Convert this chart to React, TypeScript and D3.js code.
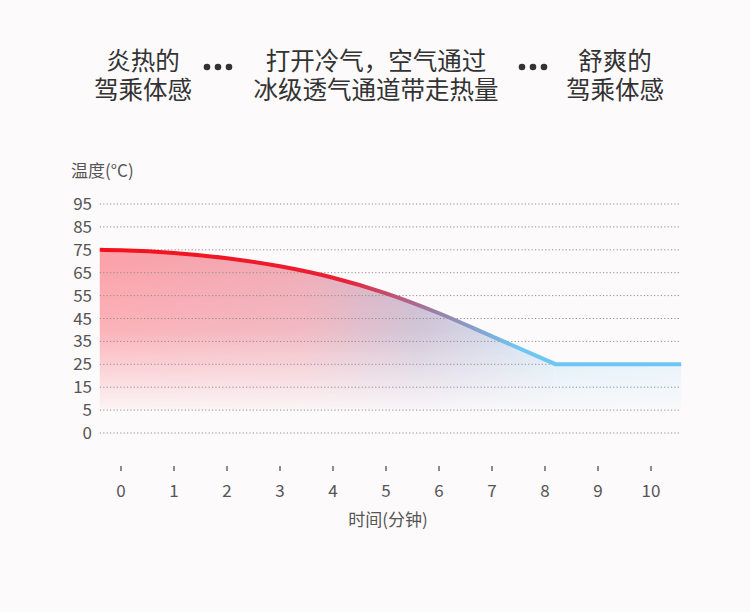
import React from "react";
import * as d3 from "d3";

const W = 750;
const H = 612;

const yTickLabels = ["95", "85", "75", "65", "55", "45", "35", "25", "15", "5", "0"];
const xTickLabels = ["0", "1", "2", "3", "4", "5", "6", "7", "8", "9", "10"];

const timeMin = [-0.4, 0, 1, 2, 3, 4, 5, 6, 7, 8.2, 9, 10, 10.57];
const tempC = [75, 74.8, 73.6, 71.3, 67.8, 62.8, 56, 47.3, 37.2, 25, 25, 25, 25];

const titleLeft = ["炎热的", "驾乘体感"];
const titleMid = ["打开冷气，空气通过", "冰级透气通道带走热量"];
const titleRight = ["舒爽的", "驾乘体感"];

const FONT = "'Noto Sans CJK SC', 'Noto Sans', sans-serif";

export default function App() {
  const x = d3.scaleLinear().domain([0, 10]).range([121, 651]);
  const yPos = d3.scalePoint<string>().domain(yTickLabels).range([204, 433]);
  const y = d3
    .scaleLinear()
    .domain([0, 5, 95])
    .range([yPos("0")!, yPos("5")!, yPos("95")!]);

  const pts = timeMin.map((t, i) => [t, tempC[i]] as [number, number]);
  const curvePts = pts.slice(0, 10);
  const flatPts = pts.slice(9);

  const lineCurve = d3
    .line<[number, number]>()
    .x((d) => x(d[0]))
    .y((d) => y(d[1]))
    .curve(d3.curveMonotoneX);
  const lineFlat = d3
    .line<[number, number]>()
    .x((d) => x(d[0]))
    .y((d) => y(d[1]));
  const linePath = lineCurve(curvePts)! + lineFlat(flatPts)!.replace(/^M/, "L");

  const area = d3
    .area<[number, number]>()
    .x((d) => x(d[0]))
    .y0(y(5))
    .y1((d) => y(d[1]))
    .curve(d3.curveMonotoneX);
  const areaFlat = d3
    .area<[number, number]>()
    .x((d) => x(d[0]))
    .y0(y(5))
    .y1((d) => y(d[1]));

  const x0 = x(timeMin[0]);
  const x1 = x(timeMin[timeMin.length - 1]);

  const dots = (cx: number) =>
    [-11, 0, 11].map((o, i) => <circle key={i} cx={cx + o} cy={67} r={3.3} fill="#333" />);

  return (
    <svg
      width={W}
      height={H}
      style={{ position: "absolute", left: 0, top: 0, background: "#fcfafb" }}
      fontFamily={FONT}
    >
      <defs>
        <linearGradient id="lineGrad" gradientUnits="userSpaceOnUse" x1={x0} x2={x1} y1={0} y2={0}>
          <stop offset="0" stopColor="#f5101a" />
          <stop offset="0.42" stopColor="#ea2034" />
          <stop offset="0.58" stopColor="#9a80aa" />
          <stop offset="0.72" stopColor="#6ec6f2" />
          <stop offset="1" stopColor="#6ec6f2" />
        </linearGradient>
        <linearGradient id="areaGradH" gradientUnits="userSpaceOnUse" x1={x0} x2={x1} y1={0} y2={0}>
          <stop offset="0" stopColor="#fb9aa2" />
          <stop offset="0.35" stopColor="#eea4b0" />
          <stop offset="0.55" stopColor="#c2b4cc" />
          <stop offset="0.8" stopColor="#c8e6f8" />
          <stop offset="1" stopColor="#d4edfa" />
        </linearGradient>
        <linearGradient id="fadeV" gradientUnits="userSpaceOnUse" x1={0} x2={0} y1={y(75)} y2={y(5)}>
          <stop offset="0" stopColor="#fff" stopOpacity="0.95" />
          <stop offset="0.5" stopColor="#fff" stopOpacity="0.75" />
          <stop offset="1" stopColor="#fff" stopOpacity="0.05" />
        </linearGradient>
        <mask id="fadeMask" maskUnits="userSpaceOnUse" x={0} y={0} width={W} height={H}>
          <rect x={0} y={0} width={W} height={H} fill="url(#fadeV)" />
        </mask>
      </defs>

      {/* Titles */}
      <g fill="#333" fontSize={24.5} textAnchor="middle" fontWeight={400}>
        {titleLeft.map((t, i) => (
          <text key={i} x={143} y={70 + i * 28.5}>
            {t}
          </text>
        ))}
        {titleMid.map((t, i) => (
          <text key={i} x={376} y={70 + i * 28.5}>
            {t}
          </text>
        ))}
        {titleRight.map((t, i) => (
          <text key={i} x={615} y={70 + i * 28.5}>
            {t}
          </text>
        ))}
      </g>
      {dots(218)}
      {dots(533)}

      {/* Area */}
      <g mask="url(#fadeMask)">
        <path d={area(curvePts)!} fill="url(#areaGradH)" />
        <path d={areaFlat(flatPts)!} fill="url(#areaGradH)" />
      </g>

      {/* Grid */}
      <g>
        {yTickLabels.map((t) => (
          <g key={t}>
            <line
              x1={x0}
              x2={x1}
              y1={yPos(t)!}
              y2={yPos(t)!}
              stroke="#8f8f8f"
              strokeWidth={1}
              strokeDasharray="1.2,2.2"
            />
            <text x={92} y={yPos(t)! + 6} textAnchor="end" fontSize={17} fill="#555">
              {t}
            </text>
          </g>
        ))}
      </g>

      {/* Line */}
      <path d={linePath} fill="none" stroke="url(#lineGrad)" strokeWidth={4} strokeLinejoin="round" />

      {/* Y title */}
      <text x={71} y={177} fontSize={17} fill="#555">
        温度(°C)
      </text>

      {/* X axis */}
      {xTickLabels.map((t, i) => (
        <g key={t}>
          <line x1={x(i)} x2={x(i)} y1={466} y2={471} stroke="#666" strokeWidth={1.5} />
          <text x={x(i)} y={497} textAnchor="middle" fontSize={17} fill="#555">
            {t}
          </text>
        </g>
      ))}
      <text x={x(5) + 2} y={526} textAnchor="middle" fontSize={17} fill="#555">
        时间(分钟)
      </text>
    </svg>
  );
}
